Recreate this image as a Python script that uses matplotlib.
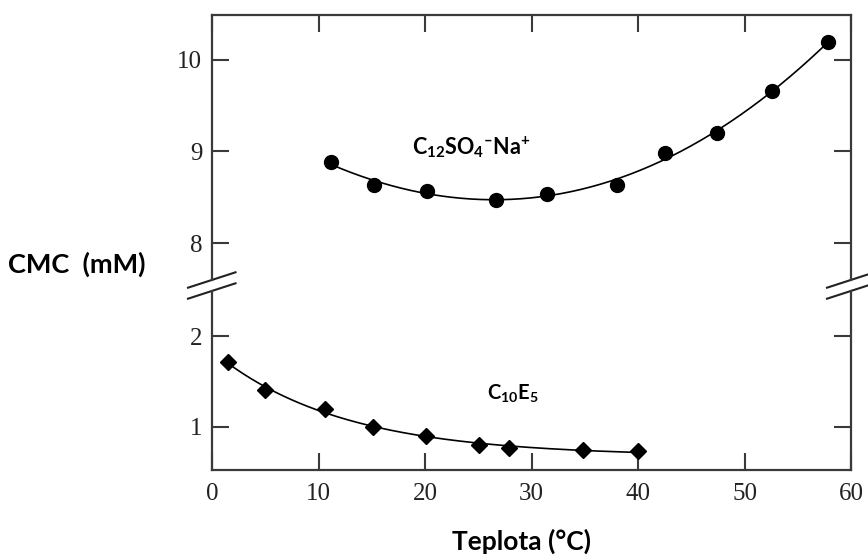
import numpy as np
import matplotlib.pyplot as plt
import matplotlib.transforms as mtransforms

# CMC of the anionic surfactant (upper panel) and the nonionic one (lower panel)
temp_sds = [11.2, 15.2, 20.2, 26.7, 31.5, 38.0, 42.5, 47.4, 52.6, 57.8]
cmc_sds = [8.88, 8.63, 8.57, 8.47, 8.54, 8.63, 8.98, 9.20, 9.66, 10.19]

temp_c10e5 = [1.5, 5.0, 10.6, 15.1, 20.1, 25.1, 27.9, 34.8, 40.0]
cmc_c10e5 = [1.71, 1.41, 1.195, 1.00, 0.904, 0.802, 0.773, 0.747, 0.736]

x_ticks = [0, 10, 20, 30, 40, 50, 60]
y_ticks_top = [8, 9, 10]
y_ticks_bot = [1, 2]

plt.rcParams['mathtext.fontset'] = 'custom'
plt.rcParams['mathtext.bf'] = 'Lato:bold'
plt.rcParams['mathtext.rm'] = 'Lato'

INK = '#222222'
SPINE = '#3a3a3a'


def fit_poly(x, y, deg):
    x = np.asarray(x)
    c = np.polyfit(x, y, deg)
    xs = np.linspace(x.min(), x.max(), 200)
    return xs, np.polyval(c, xs)


def fit_decay(x, y):
    # y = a + b*exp(-x/tau), tau picked by least squares over a grid
    x = np.asarray(x)
    y = np.asarray(y)
    best = None
    for tau in np.linspace(3, 40, 400):
        A = np.column_stack([np.ones_like(x), np.exp(-x / tau)])
        coef, res, _, _ = np.linalg.lstsq(A, y, rcond=None)
        err = np.sum((A @ coef - y) ** 2)
        if best is None or err < best[0]:
            best = (err, tau, coef)
    _, tau, (a, b) = best
    xs = np.linspace(x.min(), x.max(), 200)
    return xs, a + b * np.exp(-xs / tau)


fig = plt.figure(figsize=(8.68, 5.57), dpi=100)
ax_top = fig.add_axes([0.24424, 0.49731, 0.73618, 0.47576])
ax_bot = fig.add_axes([0.24424, 0.15619, 0.73618, 0.32136])

xs, ys = fit_poly(temp_sds, cmc_sds, 3)
ax_top.plot(xs, ys, color='black', lw=1.2, zorder=2)
ax_top.plot(temp_sds, cmc_sds, 'o', color='black', ms=10, zorder=3)

xs, ys = fit_decay(temp_c10e5, cmc_c10e5)
ax_bot.plot(xs, ys, color='black', lw=1.2, zorder=2)
ax_bot.plot(temp_c10e5, cmc_c10e5, 'D', color='black', ms=8.5, zorder=3)

for ax in (ax_top, ax_bot):
    ax.set_xlim(0, 60)
    ax.set_xticks(x_ticks)
    for s in ax.spines.values():
        s.set_color(SPINE)
        s.set_linewidth(1.6)
    ax.tick_params(direction='in', length=12, width=1.5, color=SPINE,
                   labelsize=18, labelcolor=INK, pad=7)

ax_top.set_ylim(7.596, 10.49)
ax_top.set_yticks(y_ticks_top)
ax_top.spines['bottom'].set_visible(False)
ax_top.tick_params(axis='x', bottom=False, top=True, labelbottom=False)
ax_top.tick_params(axis='y', left=True, right=True)

ax_bot.set_ylim(0.527, 2.495)
ax_bot.set_yticks(y_ticks_bot)
ax_bot.spines['top'].set_visible(False)
ax_bot.tick_params(axis='x', bottom=True, top=False, pad=9)
ax_bot.tick_params(axis='y', left=True, right=True)

for lab in ax_top.get_yticklabels() + ax_bot.get_xticklabels() + ax_bot.get_yticklabels():
    lab.set_family('Liberation Serif')

# slanted break marks on both vertical spines
seg_x = [-0.24, 0.235]
seg_y = [-0.077, 0.077]
for ax, ya in ((ax_top, 0.0), (ax_bot, 1.0)):
    for xa in (0.0, 1.0):
        tr = fig.dpi_scale_trans + mtransforms.ScaledTranslation(xa, ya, ax.transAxes)
        ax.plot(seg_x, seg_y, color=INK, lw=1.5, transform=tr, clip_on=False)

ax_top.text(18.8, 8.973, r'$\mathbf{C_{12}SO_4{}^{–}Na^{+}}$', fontsize=15.5,
            ha='left', va='baseline', color='black')
ax_bot.text(25.8, 1.30, r'$\mathbf{C_{10}E_5}$', fontsize=14.5,
            ha='left', va='baseline', color='black')

fig.text(8 / 868, 1 - 264 / 557, 'CMC  (mM)', family='Lato', fontweight='bold',
         fontsize=19.5, ha='left', va='center', color='black')
fig.text(522 / 868, 1 - 541 / 557, 'Teplota (°C)', family='Lato', fontweight='bold',
         fontsize=19, ha='center', va='center', color='black')

fig.savefig('out.png', dpi=100)
